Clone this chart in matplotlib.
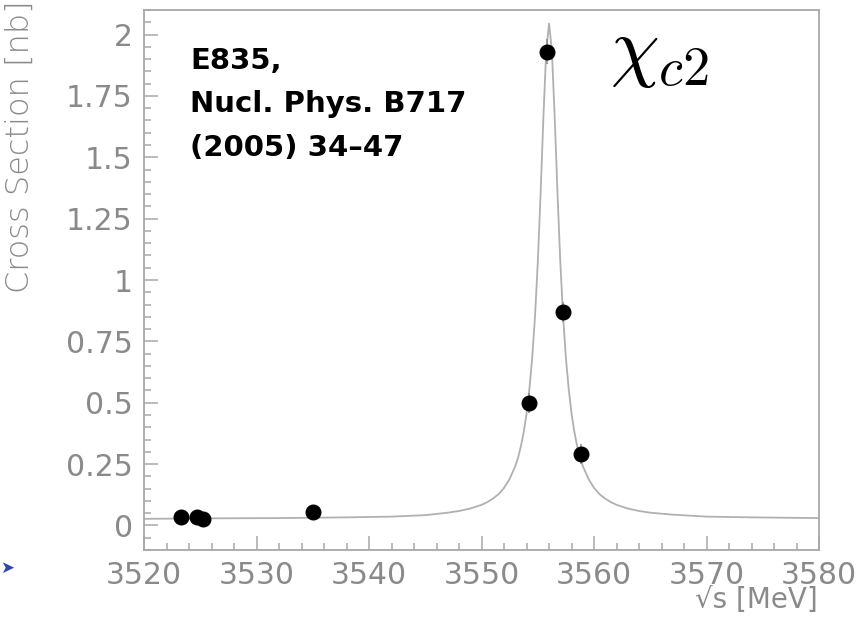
import matplotlib.pyplot as plt
from matplotlib.ticker import MultipleLocator

plt.rcParams["mathtext.fontset"] = "cm"

# E835 chi_c2 scan: measured points
sqrt_s = [3523.3, 3524.7, 3525.2, 3535.0, 3554.2, 3555.8, 3557.2, 3558.8]
xsec = [0.033, 0.035, 0.025, 0.053, 0.50, 1.93, 0.87, 0.29]
xsec_err = [0.01, 0.01, 0.01, 0.01, 0.04, 0.05, 0.04, 0.04]

# fitted resonance curve
fit_x = [3520, 3526, 3532, 3538, 3542, 3545, 3547, 3548, 3549, 3550, 3550.5,
         3551, 3551.5, 3552, 3552.5, 3553, 3553.25, 3553.5, 3553.75, 3554,
         3554.25, 3554.5, 3554.75, 3555, 3555.25, 3555.5, 3555.75, 3556,
         3556.25, 3556.5, 3556.75, 3557, 3557.25, 3557.5, 3557.75, 3558,
         3558.25, 3558.5, 3558.75, 3559, 3559.5, 3560, 3560.5, 3561, 3561.5,
         3562, 3563, 3564, 3565, 3567, 3570, 3574, 3580]
fit_y = [0.027, 0.029, 0.030, 0.033, 0.036, 0.042, 0.052, 0.059, 0.069, 0.084,
         0.095, 0.109, 0.127, 0.153, 0.190, 0.242, 0.277, 0.323, 0.381, 0.455,
         0.555, 0.681, 0.851, 1.074, 1.354, 1.666, 1.935, 2.045,
         1.935, 1.666, 1.354, 1.074, 0.851, 0.681, 0.555, 0.455,
         0.381, 0.323, 0.277, 0.242, 0.190, 0.153, 0.127, 0.109, 0.095,
         0.084, 0.069, 0.059, 0.052, 0.044, 0.036, 0.033, 0.030]

yticks = [0, 0.25, 0.5, 0.75, 1, 1.25, 1.5, 1.75, 2]
ytick_labels = ["0", "0.25", "0.5", "0.75", "1", "1.25", "1.5", "1.75", "2"]

axis_col = "#a8a8a8"
text_col = "#8a8a8a"

fig = plt.figure(figsize=(8.64, 6.26), dpi=100)
ax = fig.add_axes([0.1667, 0.1214, 0.7813, 0.8626])

ax.plot(fit_x, fit_y, color="#b0b0b0", lw=1.3, zorder=1)
ax.errorbar(sqrt_s, xsec, yerr=xsec_err, fmt="o", color="black", ms=10.5,
            ecolor="#909090", elinewidth=1.2, capsize=0, zorder=3)

ax.set_xlim(3520, 3580)
ax.set_ylim(-0.10, 2.10)
ax.set_yticks(yticks)
ax.set_yticklabels(ytick_labels)
ax.xaxis.set_major_locator(MultipleLocator(10))
ax.xaxis.set_minor_locator(MultipleLocator(2))
ax.yaxis.set_minor_locator(MultipleLocator(0.05))

for sp in ax.spines.values():
    sp.set_color(axis_col)
    sp.set_linewidth(1.3)
ax.tick_params(which="both", direction="in", color=axis_col, width=1.1,
               labelcolor=text_col, labelsize=21.5, top=False, right=False)
ax.tick_params(which="major", length=10, pad=8)
ax.tick_params(which="minor", length=5)

fig.text(20 / 864, 1 - 0 / 626, "Cross Section [nb]", rotation=90,
         ha="center", va="top", color=text_col, fontsize=23,
         fontweight="light")
fig.text(818 / 864, 1 - 600 / 626, "\u221as [MeV]", ha="right",
         va="center", color=text_col, fontsize=20)

fig.text(190 / 864, 1 - 47 / 626, "E835,\nNucl. Phys. B717\n(2005) 34\u201347",
         ha="left", va="top", fontsize=21, fontweight="bold",
         color="black", linespacing=1.7)

fig.text(610 / 864, 1 - 52 / 626, r"$\chi_{c2}$", ha="left", va="center",
         fontsize=56, color="black")

fig.text(0.0, 1 - 568 / 626, "\u27a4", ha="left", va="center",
         fontsize=12, color="#3344aa")

fig.savefig("out.png", dpi=100)
